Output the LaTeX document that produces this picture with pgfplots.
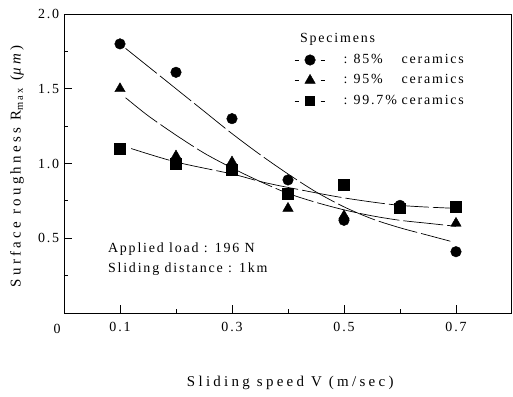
\documentclass[border=0pt]{standalone}
\usepackage{pgfplots}
\pgfplotsset{compat=1.18}
\usepackage{fontspec}
\setmainfont{Liberation Serif}[LetterSpace=13]
\newfontfamily\widefont{Liberation Serif}[LetterSpace=22]

\begin{document}
\fontsize{14}{16}\selectfont
\begin{tikzpicture}
\useasboundingbox (-64bp,-84bp) rectangle (449bp,313bp);
\begin{axis}[
  at={(0,0)}, anchor=south west,
  scale only axis, width=448bp, height=299bp,
  xmin=0, xmax=0.8, ymin=0, ymax=2.0,
  xtick={0.1,0.3,0.5,0.7}, minor xtick={0.2,0.4,0.6},
  ytick={0.5,1.0,1.5,2.0}, minor ytick={0.25,0.75,1.25,1.75},
  xtick pos=bottom, ytick pos=left,
  tick align=inside,
  major tick length=8bp, minor tick length=4bp,
  every tick/.style={black, line width=0.8pt},
  axis line style={line width=1pt},
  /pgf/number format/assume math mode=true,
  /pgf/number format/fixed, /pgf/number format/fixed zerofill,
  /pgf/number format/precision=1,
  ticklabel style={font=\fontsize{14}{16}\selectfont},
  xticklabel style={yshift=-4bp},
  xlabel={\widefont Sliding speed V (m/sec)},
  ylabel={\widefont Surface roughness R\textsubscript{max} (\textit{μm})},
  xlabel style={at={(axis description cs:0.505,-0.234)}, anchor=center, font=\fontsize{15}{17}\selectfont},
  ylabel style={at={(axis description cs:-0.105,0.49)}, anchor=center, font=\fontsize{15}{17}\selectfont},
  legend style={at={(axis cs:0.411,1.745)}, anchor=north west, draw=none, fill=none,
    inner sep=0pt, row sep=5bp, font=\fontsize{14}{16}\selectfont},
  legend cell align=left,
  legend image code/.code={
    \draw[#1, solid] (0bp,0bp) -- (4bp,0bp);
    \draw[#1, solid] (26bp,0bp) -- (30bp,0bp);
    \draw[#1] plot coordinates {(15.5bp,0bp)};
  },
  clip=false,
]
% fitted curves
\addplot[black, line width=0.7pt, smooth, dash pattern=on 40bp off 4bp, forget plot] coordinates {
 (0.11,1.77) (0.15,1.65) (0.2,1.50) (0.25,1.35) (0.3,1.20) (0.35,1.06) (0.4,0.93)
 (0.45,0.81) (0.5,0.71) (0.55,0.63) (0.6,0.57) (0.65,0.52) (0.69,0.48)};
\addplot[black, line width=0.7pt, smooth, dash pattern=on 40bp off 4bp, forget plot] coordinates {
 (0.11,1.44) (0.15,1.32) (0.2,1.19) (0.25,1.07) (0.3,0.97) (0.35,0.88) (0.4,0.80)
 (0.45,0.74) (0.5,0.69) (0.55,0.65) (0.6,0.62) (0.65,0.60) (0.70,0.58)};
\addplot[black, line width=0.7pt, smooth, dash pattern=on 40bp off 4bp, forget plot] coordinates {
 (0.12,1.10) (0.2,1.01) (0.3,0.93) (0.35,0.88) (0.4,0.84) (0.5,0.77) (0.6,0.72) (0.7,0.70)};
% data points
\addplot[only marks, mark=*, mark size=5.3bp, black, forget plot] coordinates {
 (0.1,1.80) (0.2,1.61) (0.3,1.30) (0.4,0.89) (0.5,0.62) (0.6,0.72) (0.7,0.41)};
\addplot[only marks, mark=triangle*, mark size=6bp, black, forget plot] coordinates {
 (0.1,1.50) (0.2,1.05) (0.3,1.01) (0.4,0.70) (0.5,0.65) (0.7,0.60)};
\addplot[only marks, mark=square*, mark size=5.3bp, black, forget plot] coordinates {
 (0.1,1.10) (0.2,1.00) (0.3,0.96) (0.4,0.80) (0.5,0.86) (0.6,0.70) (0.7,0.71)};
\addlegendimage{black, mark=*, mark size=5.3bp}
\addlegendentry{\hspace{17bp}:\hspace{6bp}\makebox[48bp][l]{85\%}ceramics}
\addlegendimage{black, mark=triangle*, mark size=6bp}
\addlegendentry{\hspace{17bp}:\hspace{6bp}\makebox[48bp][l]{95\%}ceramics}
\addlegendimage{black, mark=square*, mark size=4.5bp}
\addlegendentry{\hspace{17bp}:\hspace{6bp}\makebox[48bp][l]{99.7\%}ceramics}
\node[anchor=west] at (axis cs:0.413,1.833) {Specimens};
\node[anchor=west] at (axis cs:0.070,0.428) {Applied load : 196 N};
\node[anchor=west] at (axis cs:0.070,0.294) {Sliding distance : 1km};
\node[font=\fontsize{14}{16}\selectfont] at (axis cs:0,0) [xshift=-7bp, yshift=-16bp] {0};
\end{axis}
\end{tikzpicture}
\end{document}
